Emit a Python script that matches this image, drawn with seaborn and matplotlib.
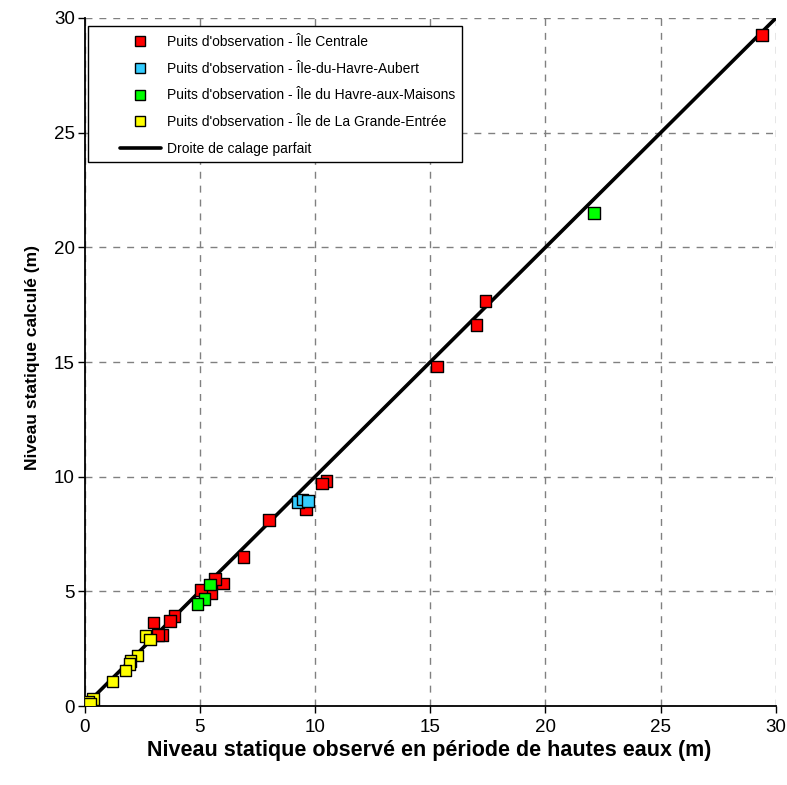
import numpy as np
import pandas as pd
import matplotlib
matplotlib.use("Agg")
import matplotlib.pyplot as plt
import seaborn as sns
from matplotlib.lines import Line2D
from matplotlib.patches import Rectangle

# ---- data ----
groups = [
    "Puits d'observation - Île Centrale",
    "Puits d'observation - Île-du-Havre-Aubert",
    "Puits d'observation - Île du Havre-aux-Maisons",
    "Puits d'observation - Île de La Grande-Entrée",
]
colors = ["#FF0000", "#33CCFF", "#00FF00", "#FFFF00"]

centrale_obs = [29.4, 17.4, 17.0, 15.3, 10.5, 10.3, 9.6, 8.0, 6.9, 6.0, 5.65, 5.5, 5.05, 3.9, 3.7, 3.0, 3.35, 3.2]
centrale_calc = [29.25, 17.65, 16.6, 14.8, 9.8, 9.7, 8.6, 8.1, 6.5, 5.35, 5.55, 4.9, 5.05, 3.92, 3.72, 3.65, 3.1, 3.1]

aubert_obs = [9.25, 9.45, 9.7]
aubert_calc = [8.9, 9.0, 8.95]

maisons_obs = [22.1, 5.45, 5.2, 4.9]
maisons_calc = [21.5, 5.3, 4.67, 4.45]

entree_obs = [2.65, 2.85, 2.3, 2.0, 1.95, 1.77, 1.22, 0.38, 0.17, 0.25]
entree_calc = [3.05, 2.9, 2.2, 1.95, 1.83, 1.55, 1.07, 0.3, 0.2, 0.1]

line_x = [0, 30]
line_y = [0, 30]
line_label = "Droite de calage parfait"

ticks = [0, 5, 10, 15, 20, 25, 30]
xlabel = "Niveau statique observé en période de hautes eaux (m)"
ylabel = "Niveau statique calculé (m)"

df = pd.concat([
    pd.DataFrame({"obs": centrale_obs, "calc": centrale_calc, "g": groups[0]}),
    pd.DataFrame({"obs": aubert_obs, "calc": aubert_calc, "g": groups[1]}),
    pd.DataFrame({"obs": maisons_obs, "calc": maisons_calc, "g": groups[2]}),
    pd.DataFrame({"obs": entree_obs, "calc": entree_calc, "g": groups[3]}),
], ignore_index=True)

sns.set_style("white")
plt.rcParams["font.family"] = ["Liberation Sans", "DejaVu Sans"]
plt.rcParams["text.color"] = "black"
plt.rcParams["axes.labelcolor"] = "black"
plt.rcParams["xtick.color"] = "black"
plt.rcParams["ytick.color"] = "black"

fig = plt.figure(figsize=(7.87, 7.85), dpi=100)
ax = fig.add_axes([0.1074, 0.1006, 0.8786, 0.8765])

sns.lineplot(x=line_x, y=line_y, ax=ax, color="black", linewidth=2.6, zorder=2, legend=False)
sns.scatterplot(data=df, x="obs", y="calc", hue="g", hue_order=groups,
                palette=colors, marker="s", s=70, edgecolor="black",
                linewidth=1.0, ax=ax, zorder=3, legend=False)

ax.set_xlim(0, 30)
ax.set_ylim(0, 30)
ax.set_xticks(ticks)
ax.set_yticks(ticks)
ax.tick_params(axis="both", direction="out", length=5, width=1,
               labelsize=13.5, bottom=True, left=True)
ax.tick_params(axis="y", pad=2)
ax.tick_params(axis="x", pad=4)
ax.grid(True, color="#808080", linestyle=(0, (5, 5)), linewidth=1)
ax.set_axisbelow(True)
for s in ["top", "right"]:
    ax.spines[s].set_visible(False)
for s in ["left", "bottom"]:
    ax.spines[s].set_color("black")
    ax.spines[s].set_linewidth(1.3)

ax.set_xlabel(xlabel, fontsize=15.5, fontweight="bold")
ax.set_ylabel(ylabel, fontsize=12.5, fontweight="bold")
ax.xaxis.set_label_coords(0.498, -0.049)
ax.yaxis.set_label_coords(-0.064, 0.507)

# legend frame
ax.add_patch(Rectangle((0.00506, 0.7907), 0.5409, 0.1977, transform=ax.transAxes,
                       facecolor="white", edgecolor="black", linewidth=1.0,
                       zorder=4, clip_on=False))

handles = [Line2D([], [], linestyle="none", marker="s", markersize=6.5,
                  markerfacecolor=c, markeredgecolor="black", markeredgewidth=1)
           for c in colors]
handles.append(Line2D([], [], color="black", linewidth=2.6))
leg = ax.legend(handles, groups + [line_label], loc="upper left",
                bbox_to_anchor=(0.0513, 0.9755), fontsize=10, frameon=False,
                borderpad=0, labelspacing=0.92, handlelength=2.95,
                handletextpad=0.43, borderaxespad=0)
leg.set_zorder(5)

fig.savefig("out.png", dpi=100)
